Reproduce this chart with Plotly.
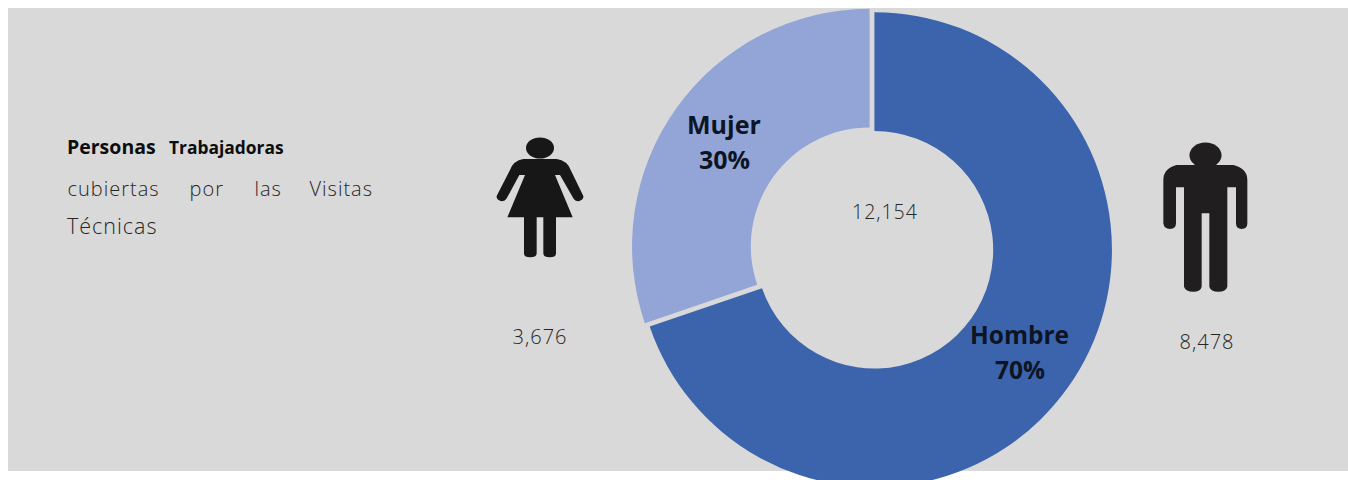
import plotly.graph_objects as go

categories = ["Hombre", "Mujer"]
values = [8478, 3676]
shares = ["70%", "30%"]
total_label = "12,154"
count_labels = ["8,478", "3,676"]
title_bold = ["Personas", "Trabajadoras"]
title_words = ["cubiertas", "por", "las", "Visitas", "Técnicas"]

W, H = 1348, 500   # slightly taller than the window: the donut runs off the bottom edge
def X(p): return p / W
def Y(p): return 1 - p / H

BG = "#d9d9d9"

def icon_path(cmds, ox, oy):
    out = []
    toks = cmds.split()
    i = 0
    while i < len(toks):
        t = toks[i]
        if t.isalpha():
            out.append(t); i += 1
        else:
            px = float(toks[i]) / 3 + ox
            py = float(toks[i + 1]) / 3 + oy
            out.append(f"{X(px):.5f},{Y(py):.5f}")
            i += 2
    return " ".join(out)

woman = ("M 130 117 L 230 117 Q 262 122 272 150 L 310 228 Q 312 240 295 244 Q 285 244 280 235 "
         "L 240 165 L 225 165 L 278 292 L 228 292 L 228 400 Q 228 412 210 412 Q 190 412 190 400 "
         "L 190 292 L 170 292 L 170 400 Q 170 412 150 412 Q 132 412 132 400 L 132 292 L 82 292 "
         "L 135 165 L 118 165 L 80 235 Q 75 244 65 244 Q 48 240 50 228 L 90 150 Q 100 122 130 117 Z")
man = ("M 110 105 L 280 105 Q 322 115 322 150 L 322 280 Q 322 297 305 297 Q 288 297 288 280 "
       "L 288 172 L 262 172 L 262 470 Q 258 485 235 485 Q 212 485 208 470 L 208 250 L 185 250 "
       "L 185 470 Q 182 485 160 485 Q 137 485 132 470 L 132 172 L 108 172 L 108 280 Q 108 297 90 297 "
       "Q 72 297 70 280 L 70 150 Q 70 115 110 105 Z")

shapes = [
    dict(type="rect", xref="paper", yref="paper", x0=X(8), x1=1, y0=Y(471), y1=Y(8),
         fillcolor=BG, line_width=0, layer="below"),
    dict(type="path", xref="paper", yref="paper", path=icon_path(woman, 480, 120),
         fillcolor="#171717", line_width=0),
    dict(type="circle", xref="paper", yref="paper", x0=X(526), x1=X(554), y0=Y(158.5), y1=Y(137.5),
         fillcolor="#171717", line_width=0),
    dict(type="path", xref="paper", yref="paper", path=icon_path(man, 1140, 130),
         fillcolor="#211e1f", line_width=0),
    dict(type="circle", xref="paper", yref="paper", x0=X(1189.5), x1=X(1221.5), y0=Y(168), y1=Y(142.5),
         fillcolor="#211e1f", line_width=0),
]

def note(text, px, py, size, color="#262626", bold=False, anchor="center"):
    return dict(text=text, x=X(px), y=Y(py), xref="paper", yref="paper",
                xanchor=anchor, yanchor="middle", showarrow=False,
                font=dict(family="Open Sans", size=size, color=color, weight=700 if bold else 300))

annotations = [
    note(title_bold[0], 65, 146, 19.5, "#0d0d0d", True, "left"),
    note(title_bold[1], 167, 147, 17.4, "#0d0d0d", True, "left"),
    note(title_words[0], 69.5, 188, 20, anchor="left"),
    note(title_words[1], 188.5, 188, 20, anchor="left"),
    note(title_words[2], 253.5, 188, 20, anchor="left"),
    note(title_words[3], 310.5, 188, 20, anchor="left"),
    note(title_words[4], 69, 226, 21.5, anchor="left"),
    note(total_label, 885, 212, 19.5),
    note(count_labels[1], 540, 336, 20),
    note(count_labels[0], 1207, 341, 20),
    note(categories[0], 1019, 334, 24.5, "#0d1524", True),
    note(shares[0], 1020, 369, 24.5, "#0d1524", True),
    note(categories[1], 724, 124, 25, "#0d1524", True),
    note(shares[1], 725, 159, 25, "#0d1524", True),
]

fig = go.Figure(go.Pie(
    labels=categories, values=values, sort=False, direction="clockwise", rotation=0,
    hole=0.5, pull=[0.0125, 0.0125], textinfo="none", showlegend=False,
    marker=dict(colors=["#3c64ad", "#92a5d6"], line=dict(width=0)),
    domain=dict(x=[X(872 - 240.5), X(872 + 240.5)], y=[Y(248 + 240.5), Y(248 - 240.5)]),
))
fig.update_layout(width=W, height=H, autosize=False, margin=dict(l=0, r=0, t=0, b=0),
                  paper_bgcolor="white", shapes=shapes, annotations=annotations, showlegend=False)
fig.write_html("out.html", config=dict(displayModeBar=False), post_script=(
    "document.documentElement.style.overflow='hidden';"
    "document.body.style.margin='0';"
    "document.querySelectorAll('.annotation-text').forEach(function(t){"
    "if(parseInt(getComputedStyle(t).fontWeight)<400){t.style.letterSpacing='1px';}});"))
